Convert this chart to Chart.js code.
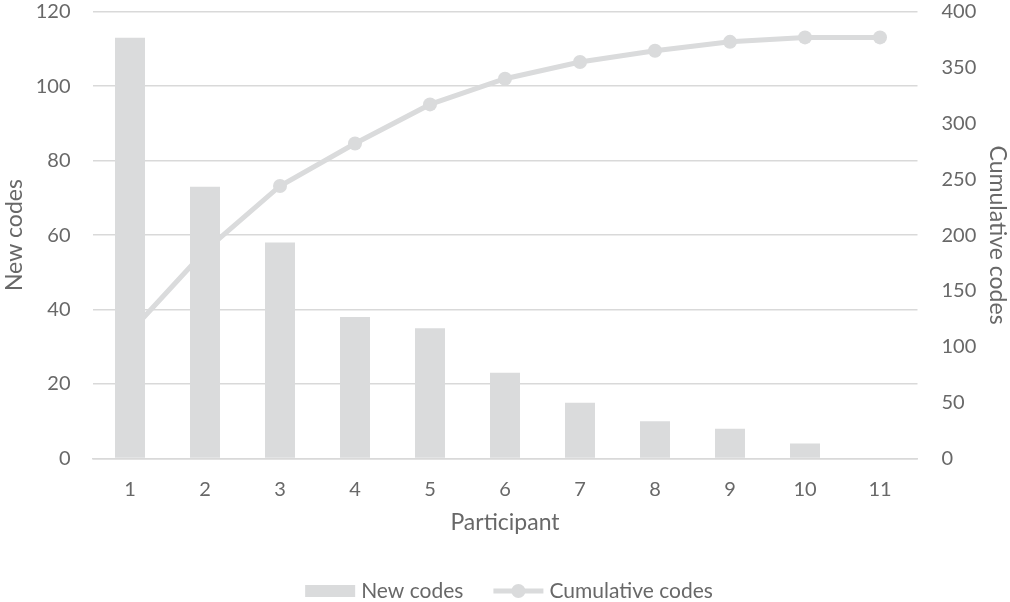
<!DOCTYPE html>
<html>
<head>
<meta charset="utf-8">
<script src="https://cdn.jsdelivr.net/npm/chart.js@4/dist/chart.umd.min.js"></script>
<style>
  html, body { margin: 0; padding: 0; background: #fff; }
  #wrap { width: 1010px; height: 602px; position: relative; }
</style>
</head>
<body>
<div id="wrap"><canvas id="chart"></canvas></div>
<script>
// Participants interviewed, in order
const participants = ['1', '2', '3', '4', '5', '6', '7', '8', '9', '10', '11'];
// Codes first appearing with each participant
const newCodes = [113, 73, 58, 38, 35, 23, 15, 10, 8, 4, 0];
// Running total of distinct codes
const cumulativeCodes = [113, 186, 244, 282, 317, 340, 355, 365, 373, 377, 377];
// Axis ranges
const newCodesAxis = { min: 0, max: 120, step: 20 };
const cumulativeAxis = { min: 0, max: 400, step: 50 };

const FONT = 'Lato, "Open Sans", "Liberation Sans", sans-serif';
const TEXT = '#686868';
const GREY = '#dadbdc';
const GRID = '#d9d9d9';

// Legend drawn under the axis title: wide bar swatch, line-with-marker swatch
const bottomLegend = {
  id: 'bottomLegend',
  afterDraw(chart) {
    const ctx = chart.ctx;
    const ds = chart.data.datasets;
    const size = 21;
    ctx.save();
    ctx.font = size + 'px ' + FONT;
    ctx.textBaseline = 'middle';
    const sw = 50, gapText = 6, gapItem = 30;
    const w0 = ctx.measureText(ds[0].label).width;
    const w1 = ctx.measureText(ds[1].label).width;
    const total = sw + gapText + w0 + gapItem + sw + gapText + w1;
    const cx = (chart.chartArea.left + chart.chartArea.right) / 2 + 4;
    const y = 591;
    let x = cx - total / 2;
    // bar swatch
    ctx.fillStyle = ds[0].backgroundColor;
    ctx.fillRect(x, y - 6, sw, 12);
    x += sw + gapText;
    ctx.fillStyle = TEXT;
    ctx.fillText(ds[0].label, x, y);
    x += w0 + gapItem;
    // line swatch with marker
    ctx.strokeStyle = ds[1].borderColor;
    ctx.lineWidth = ds[1].borderWidth;
    ctx.beginPath();
    ctx.moveTo(x, y);
    ctx.lineTo(x + sw, y);
    ctx.stroke();
    ctx.fillStyle = ds[1].pointBackgroundColor;
    ctx.beginPath();
    ctx.arc(x + sw / 2, y, ds[1].pointRadius, 0, Math.PI * 2);
    ctx.fill();
    x += sw + gapText;
    ctx.fillStyle = TEXT;
    ctx.fillText(ds[1].label, x, y);
    ctx.restore();
  }
};

// Fixed side widths and top inset for the value axes
function fitValueAxis(scale) {
  scale.width = 92.5;
  scale.paddingTop = 11.7;
  scale.paddingBottom = 0;
}

new Chart(document.getElementById('chart'), {
  type: 'bar',
  data: {
    labels: participants,
    datasets: [
      {
        type: 'bar',
        label: 'New codes',
        data: newCodes,
        yAxisID: 'yNew',
        backgroundColor: GREY,
        borderWidth: 0,
        categoryPercentage: 1.0,
        barPercentage: 0.4,
        order: 1
      },
      {
        type: 'line',
        label: 'Cumulative codes',
        data: cumulativeCodes,
        yAxisID: 'yCum',
        borderColor: GREY,
        borderWidth: 5,
        pointRadius: 7,
        pointHoverRadius: 7,
        pointBackgroundColor: GREY,
        pointBorderWidth: 0,
        tension: 0,
        order: 2
      }
    ]
  },
  options: {
    responsive: true,
    maintainAspectRatio: false,
    animation: false,
    layout: { padding: { top: 0, bottom: 64, left: 0, right: 0 } },
    plugins: {
      legend: { display: false },
      tooltip: { enabled: false }
    },
    scales: {
      x: {
        grid: { display: false, drawTicks: false },
        border: { display: true, color: GRID, width: 1.5 },
        ticks: { color: TEXT, font: { family: FONT, size: 20 }, padding: 19 },
        title: {
          display: true, text: 'Participant', color: TEXT,
          font: { family: FONT, size: 23 }, padding: { top: 0, bottom: 2 }
        },
        afterFit(scale) { scale.height = 79.5; }
      },
      yNew: {
        position: 'left',
        min: newCodesAxis.min, max: newCodesAxis.max,
        grid: { color: GRID, lineWidth: 1.5, drawTicks: false },
        border: { display: false },
        ticks: { stepSize: newCodesAxis.step, color: TEXT, font: { family: FONT, size: 20 }, padding: 22 },
        title: {
          display: true, text: 'New codes', color: TEXT,
          font: { family: FONT, size: 23 }, padding: { top: 1, bottom: 0 }
        },
        afterFit: fitValueAxis
      },
      yCum: {
        position: 'right',
        min: cumulativeAxis.min, max: cumulativeAxis.max,
        grid: { display: false, drawTicks: false },
        border: { display: false },
        ticks: { stepSize: cumulativeAxis.step, color: TEXT, font: { family: FONT, size: 20 }, padding: 24 },
        title: {
          display: true, text: 'Cumulative codes', color: TEXT,
          font: { family: FONT, size: 23 }, padding: { top: -1, bottom: 0 }
        },
        afterFit: fitValueAxis
      }
    }
  },
  plugins: [bottomLegend]
});
</script>
</body>
</html>
